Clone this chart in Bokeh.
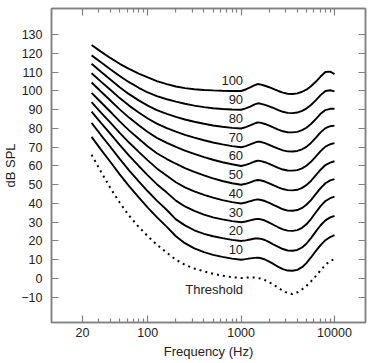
from bokeh.plotting import figure
from bokeh.models import Range1d, FixedTicker, LogAxis, LinearAxis, ColumnDataSource
from bokeh.core.properties import value
from bokeh.embed import file_html
from bokeh.resources import INLINE

freqs = [25, 31.5, 40, 50, 63, 80, 100, 125, 160, 200, 250, 315, 400, 500, 630, 800,
         1000, 1120, 1250, 1400, 1500, 1600, 1800, 2000, 2240, 2500, 2800, 3150, 3550,
         4000, 4500, 5000, 5600, 6300, 7100, 8000, 9000, 10000]

phon_100 = [124.5, 121, 117.5, 114.5, 111.8, 109.3, 107.2, 105.3, 103.7, 102.4, 101.5, 100.9, 100.5, 100.3, 100.1, 100.0,
            100.0, 100.8, 101.9, 103.1, 103.7, 103.5, 102.8, 102.0, 101.0, 100.0, 99.1, 98.5, 98.4,
            98.7, 99.6, 100.7, 102.5, 104.9, 107.7, 110.1, 110.3, 109.0]
phon_90 = [119, 115.3, 111.5, 108, 104.7, 101.7, 99.2, 97.3, 95.6, 94.3, 93.2, 92.2, 91.4, 90.8, 90.4, 90.1,
           90, 90.7, 91.7, 92.9, 93.4, 93.3, 92.6, 91.8, 90.8, 89.8, 88.9, 88.3, 88.2,
           88.5, 89.4, 90.6, 92.5, 95.0, 97.8, 100.0, 100.4, 99.8]
phon_80 = [114.5, 110.3, 106, 102, 98.3, 95, 92.2, 89.8, 87.8, 86.2, 84.8, 83.6, 82.5, 81.6, 80.9, 80.3,
           80, 80.7, 81.6, 82.7, 83.2, 83.1, 82.4, 81.5, 80.4, 79.4, 78.5, 78.0, 77.9,
           78.2, 79.1, 80.4, 82.4, 85.0, 87.8, 89.8, 90.5, 90.5]
phon_70 = [109.5, 105, 100.5, 96.2, 92.2, 88.5, 85.3, 82.6, 80.2, 78.3, 76.6, 75.1, 73.7, 72.5, 71.5, 70.6,
           70, 70.6, 71.5, 72.5, 73.0, 72.9, 72.2, 71.3, 70.2, 69.2, 68.3, 67.8, 67.7,
           68.0, 68.9, 70.2, 72.3, 75.0, 77.9, 80.2, 81.2, 81.5]
phon_60 = [104.5, 99.7, 94.8, 90.2, 85.8, 81.7, 78.1, 75.0, 72.3, 70.2, 68.2, 66.4, 64.7, 63.3, 62.0, 60.9,
           60, 60.6, 61.4, 62.4, 62.8, 62.7, 62.0, 61.1, 60.0, 59.0, 58.1, 57.6, 57.5,
           57.8, 58.7, 60.1, 62.2, 65.0, 67.9, 70.3, 71.6, 72.2]
phon_50 = [99, 94, 88.8, 83.8, 79, 74.5, 70.4, 66.8, 63.7, 61.2, 58.9, 56.9, 55.0, 53.4, 52.0, 50.8,
           50, 50.5, 51.3, 52.2, 52.5, 52.4, 51.7, 50.7, 49.6, 48.6, 47.7, 47.1, 47.0,
           47.3, 48.3, 49.8, 52.0, 55.0, 58.0, 60.5, 61.8, 62.5]
phon_40 = [94, 88.5, 83, 77.7, 72.5, 67.5, 63, 58.7, 54.8, 51.3, 48.6, 46.5, 44.6, 43.1, 41.8, 40.7,
           40, 40.5, 41.2, 41.9, 42.2, 42.0, 41.3, 40.3, 39.1, 38.0, 36.9, 36.2, 36.1,
           36.5, 37.6, 39.3, 41.8, 45.0, 48.2, 50.8, 52.3, 53.0]
phon_30 = [89, 83, 77, 71.3, 65.5, 60, 55, 50.3, 45.8, 41.5, 38.4, 36, 34, 32.6, 31.5, 30.6,
           30, 30.4, 31.0, 31.6, 31.8, 31.6, 30.9, 29.8, 28.5, 27.3, 26.2, 25.5, 25.4,
           25.8, 27.0, 28.9, 31.7, 35.2, 38.6, 41.3, 42.8, 43.7]
phon_20 = [83, 76.5, 70, 63.8, 57.7, 51.8, 46.5, 41.5, 36.5, 31.5, 28.3, 25.7, 23.8, 22.5, 21.5, 20.6,
           20, 20.3, 20.8, 21.3, 21.4, 21.2, 20.5, 19.4, 18.0, 16.8, 15.7, 14.9, 14.8,
           15.2, 16.5, 18.5, 21.5, 25.0, 28.4, 31.0, 32.6, 33.4]
phon_10 = [75.5, 68.7, 62, 55.5, 49.2, 43.2, 37.8, 32.7, 27.5, 22.5, 18.8, 16, 14, 12.6, 11.5, 10.6,
           10, 10.3, 10.7, 11.0, 11.1, 10.9, 10.1, 9.0, 7.6, 6.2, 5.0, 4.2, 4.1,
           4.6, 6.0, 8.2, 11.2, 14.6, 17.8, 20.4, 22.1, 23.1]
threshold = [66, 57, 48, 40.5, 33.5, 27.5, 22.5, 18, 13.7, 10, 7.3, 5.3, 3.8, 2.5, 1.5, 0.7,
             0.2, 0.4, 0.6, 0.5, 0.3, 0.0, -0.9, -2.0, -3.5, -5.0, -6.6, -7.8, -8.3,
             -7.4, -5.8, -4.0, -1.6, 1.2, 4.3, 7.3, 9.3, 10.3]

phon_levels = [100, 90, 80, 70, 60, 50, 40, 30, 20, 10]
phon_curves = [phon_100, phon_90, phon_80, phon_70, phon_60, phon_50, phon_40, phon_30, phon_20, phon_10]
curve_labels = ["100", "90", "80", "70", "60", "50", "40", "30", "20", "10"]
threshold_label = "Threshold"

x_major = [20, 100, 1000, 10000]
x_major_labels = ["20", "100", "1000", "10000"]
x_minor = [30, 40, 50, 60, 70, 80, 90, 200, 300, 400, 500, 600, 700, 800, 900,
           2000, 3000, 4000, 5000, 6000, 7000, 8000, 9000]
y_ticks = [-10, 0, 10, 20, 30, 40, 50, 60, 70, 80, 90, 100, 110, 120, 130]

FONT = "Liberation Sans"
GRAY = "#808080"

p = figure(x_axis_type="log", x_range=Range1d(9.3, 21500), y_range=Range1d(-23.5, 144),
           frame_width=314, frame_height=314, output_backend="svg", toolbar_location=None,
           min_border_top=8, min_border_left=0, min_border_right=4, min_border_bottom=0,
           background_fill_color="white", border_fill_color="white")
p.outline_line_color = GRAY
p.outline_line_width = 1.5
p.xgrid.visible = False
p.ygrid.visible = False

def style_axis(ax, labels=True):
    ax.axis_line_color = GRAY
    ax.axis_line_width = 1.5
    ax.major_tick_line_color = GRAY
    ax.minor_tick_line_color = GRAY
    ax.major_tick_line_width = 1.2
    ax.minor_tick_line_width = 1.2
    ax.major_tick_in = 7
    ax.major_tick_out = 0
    ax.minor_tick_in = 4
    ax.minor_tick_out = 0
    if labels:
        ax.major_label_text_font = FONT
        ax.major_label_text_font_size = "12.5px"
        ax.major_label_text_color = "#222222"
        ax.axis_label_text_font = FONT
        ax.axis_label_text_font_size = "13px"
        ax.axis_label_text_font_style = "normal"
        ax.axis_label_text_color = "#222222"
    else:
        ax.major_label_text_font_size = "1px"
        ax.major_label_text_alpha = 0
        ax.major_label_standoff = 0

xb = p.xaxis[0]
xb.ticker = FixedTicker(ticks=x_major, minor_ticks=x_minor)
xb.major_label_overrides = dict(zip(x_major, x_major_labels))
xb.axis_label = "Frequency (Hz)"
style_axis(xb)
xb.major_label_standoff = 5
xb.axis_label_standoff = 4

yl = p.yaxis[0]
yl.ticker = FixedTicker(ticks=y_ticks)
yl.major_label_overrides = {-10: "\u221210"}
yl.axis_label = "dB SPL"
style_axis(yl)
yl.major_label_standoff = 9
yl.axis_label_standoff = 0
yl.minor_tick_in = 0

xt = LogAxis(ticker=FixedTicker(ticks=x_major, minor_ticks=x_minor))
style_axis(xt, labels=False)
p.add_layout(xt, "above")

yr = LinearAxis(ticker=FixedTicker(ticks=y_ticks))
style_axis(yr, labels=False)
yr.minor_tick_in = 0
p.add_layout(yr, "right")

for lvl, curve in zip(phon_levels, phon_curves):
    p.line(freqs, curve, line_color="black", line_width=1.9)

p.line(freqs, threshold, line_color="black", line_width=2, line_dash="2 4")

lab_src = ColumnDataSource(dict(x=[1050] * len(phon_levels),
                                y=[lvl + 5.4 for lvl in phon_levels],
                                t=curve_labels))
p.text(x="x", y="y", text="t", source=lab_src, text_align="right", text_baseline="middle",
       text_font=value(FONT), text_font_size="13px", text_color="#222222")
p.text(x=[1050], y=[-5.7], text=[threshold_label], text_align="right", text_baseline="middle",
       text_font=value(FONT), text_font_size="13px", text_color="#222222")

open("out.html", "w").write(file_html(p, INLINE))
